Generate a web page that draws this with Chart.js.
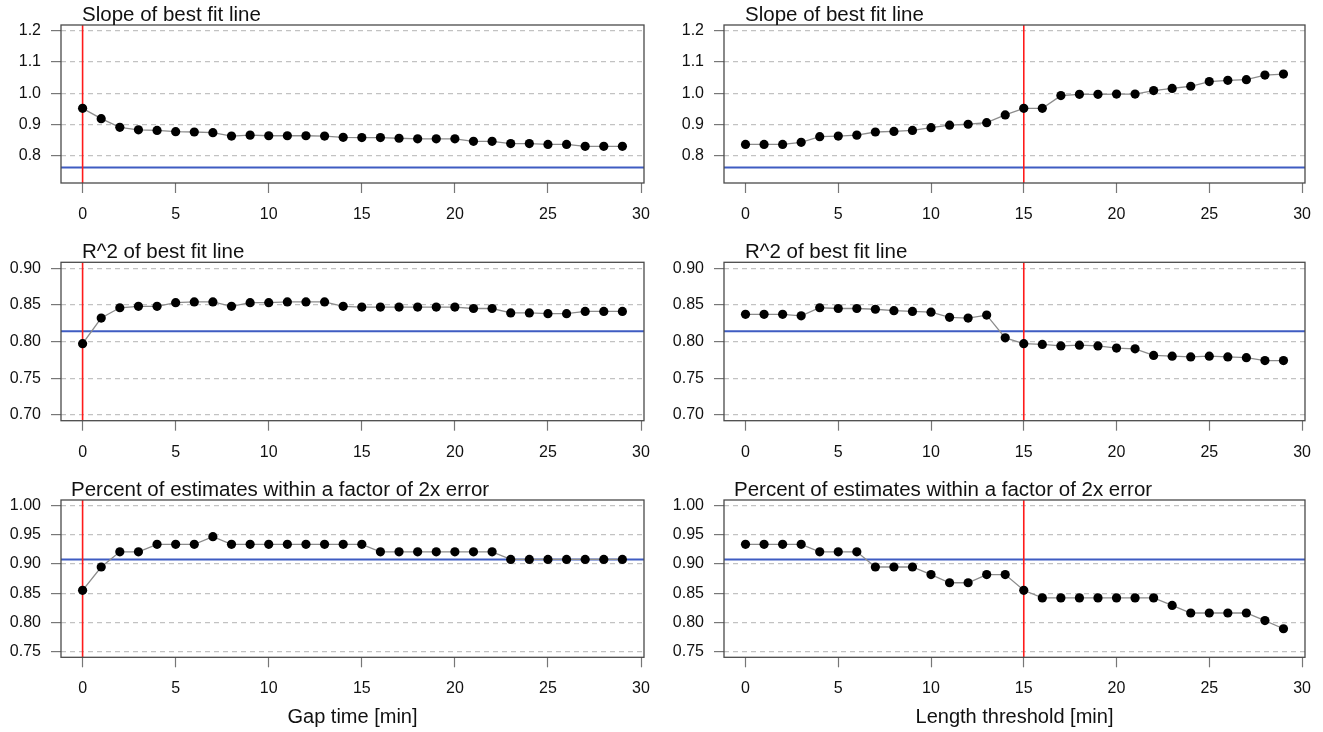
<!DOCTYPE html>
<html>
<head>
<meta charset="utf-8">
<script src="https://cdn.jsdelivr.net/npm/chart.js@4"></script>
<style>
    body { margin: 0; background: #fff; }
    #wrap { position: relative; width: 1323px; height: 732px; }
    #wrap canvas { position: absolute; }
</style>
</head>
<body>
<div id="wrap"></div>
<script>
const gapMinutes = [0, 1, 2, 3, 4, 5, 6, 7, 8, 9, 10, 11, 12, 13, 14, 15, 16, 17, 18, 19, 20, 21, 22, 23, 24, 25, 26, 27, 28, 29];
const lengthMinutes = [0, 1, 2, 3, 4, 5, 6, 7, 8, 9, 10, 11, 12, 13, 14, 15, 16, 17, 18, 19, 20, 21, 22, 23, 24, 25, 26, 27, 28, 29];
const xTicks = [0, 5, 10, 15, 20, 25, 30];

const slopeByGap = [0.951, 0.918, 0.890, 0.882, 0.880, 0.876, 0.875, 0.873, 0.862, 0.865, 0.863, 0.863, 0.863, 0.862, 0.858,
    0.857, 0.857, 0.855, 0.853, 0.853, 0.853, 0.845, 0.845, 0.838, 0.838, 0.835, 0.835, 0.829, 0.829, 0.829];
const r2ByGap = [0.797, 0.832, 0.846, 0.848, 0.848, 0.853, 0.854, 0.854, 0.848, 0.853, 0.853, 0.854, 0.854, 0.854, 0.848,
    0.847, 0.847, 0.847, 0.847, 0.847, 0.847, 0.845, 0.845, 0.839, 0.839, 0.838, 0.838, 0.841, 0.841, 0.841];
const pctByGap = [0.855, 0.895, 0.921, 0.921, 0.934, 0.934, 0.934, 0.947, 0.934, 0.934, 0.934, 0.934, 0.934, 0.934, 0.934,
    0.934, 0.921, 0.921, 0.921, 0.921, 0.921, 0.921, 0.921, 0.908, 0.908, 0.908, 0.908, 0.908, 0.908, 0.908];

const slopeByLength = [0.835, 0.835, 0.835, 0.842, 0.860, 0.862, 0.865, 0.875, 0.877, 0.880, 0.889, 0.897, 0.900, 0.905, 0.930,
    0.951, 0.951, 0.992, 0.996, 0.996, 0.997, 0.997, 1.008, 1.015, 1.022, 1.037, 1.041, 1.043, 1.058, 1.061];
const r2ByLength = [0.837, 0.837, 0.837, 0.835, 0.846, 0.845, 0.845, 0.844, 0.842, 0.841, 0.840, 0.833, 0.832, 0.836, 0.805,
    0.797, 0.796, 0.794, 0.795, 0.794, 0.791, 0.790, 0.781, 0.780, 0.779, 0.780, 0.779, 0.778, 0.774, 0.774];
const pctByLength = [0.934, 0.934, 0.934, 0.934, 0.921, 0.921, 0.921, 0.895, 0.895, 0.895, 0.882, 0.868, 0.868, 0.882, 0.882,
    0.855, 0.842, 0.842, 0.842, 0.842, 0.842, 0.842, 0.842, 0.829, 0.816, 0.816, 0.816, 0.816, 0.803, 0.789];

const slopeTicks = [0.8, 0.9, 1.0, 1.1, 1.2];
const r2Ticks = [0.70, 0.75, 0.80, 0.85, 0.90];
const pctTicks = [0.75, 0.80, 0.85, 0.90, 0.95, 1.00];

// reference values (blue) and chosen settings (red)
const baselineSlope = 0.761;
const baselineR2 = 0.814;
const baselinePct = 0.908;
const chosenGap = 0;
const chosenLength = 15;

const FONT = '"Liberation Sans", Arial, Helvetica, sans-serif';

const columns = [
    { left: 0, width: 662, axisW: 61, padRight: 16.6, xTitle: "Gap time [min]" },
    { left: 662, width: 661, axisW: 62, padRight: 15, xTitle: "Length threshold [min]" },
];
const rows = [
    { top: 0, height: 237, padTop: 25, axisH: 54, yMin: 0.7112, yMax: 1.2188, ticks: slopeTicks, digits: 1, title: "Slope of best fit line", titleShift: 21, hline: baselineSlope },
    { top: 237, height: 237, padTop: 25.3, axisH: 53.3, yMin: 0.692, yMax: 0.908, ticks: r2Ticks, digits: 2, title: "R^2 of best fit line", titleShift: 21, hline: baselineR2 },
    { top: 474, height: 258, padTop: 26, axisH: 74.7, yMin: 0.74, yMax: 1.01, ticks: pctTicks, digits: 2, title: "Percent of estimates within a factor of 2x error", titleShift: 10, hline: baselinePct },
];
const series = [
    [{ x: gapMinutes, y: slopeByGap, v: chosenGap }, { x: lengthMinutes, y: slopeByLength, v: chosenLength }],
    [{ x: gapMinutes, y: r2ByGap, v: chosenGap }, { x: lengthMinutes, y: r2ByLength, v: chosenLength }],
    [{ x: gapMinutes, y: pctByGap, v: chosenGap }, { x: lengthMinutes, y: pctByLength, v: chosenLength }],
];

// box, title, reference lines and bottom axis label
const panelDecor = {
    id: "panelDecor",
    beforeDatasetsDraw(chart, args, opts) {
        const { ctx, chartArea: a, scales } = chart;
        ctx.save();
        ctx.beginPath();
        ctx.rect(a.left, a.top, a.width, a.height);
        ctx.clip();
        const hy = scales.y.getPixelForValue(opts.hline);
        ctx.strokeStyle = "#3f5cc2";
        ctx.lineWidth = 2;
        ctx.beginPath();
        ctx.moveTo(a.left, hy);
        ctx.lineTo(a.right, hy);
        ctx.stroke();
        const vx = scales.x.getPixelForValue(opts.vline);
        ctx.strokeStyle = "#ff1a1a";
        ctx.lineWidth = 1.6;
        ctx.beginPath();
        ctx.moveTo(vx, a.top);
        ctx.lineTo(vx, a.bottom);
        ctx.stroke();
        ctx.restore();
    },
    afterDraw(chart, args, opts) {
        const { ctx, chartArea: a } = chart;
        ctx.save();
        ctx.strokeStyle = "#4a4a4a";
        ctx.lineWidth = 1.3;
        ctx.strokeRect(a.left, a.top, a.width, a.height);
        ctx.fillStyle = "#111";
        ctx.font = "20.5px " + FONT;
        ctx.textBaseline = "alphabetic";
        ctx.textAlign = "left";
        ctx.fillText(opts.title, a.left + opts.titleShift, a.top - 4);
        if (opts.xTitle) {
            ctx.font = "20px " + FONT;
            ctx.textAlign = "center";
            ctx.fillText(opts.xTitle, (a.left + a.right) / 2, a.bottom + 66);
        }
        ctx.restore();
    },
};

const wrap = document.getElementById("wrap");

rows.forEach((row, r) => {
    columns.forEach((col, c) => {
        const s = series[r][c];
        const canvas = document.createElement("canvas");
        canvas.width = col.width;
        canvas.height = row.height;
        canvas.style.left = col.left + "px";
        canvas.style.top = row.top + "px";
        wrap.appendChild(canvas);

        const points = s.x.map((x, i) => ({ x: x, y: s.y[i] }));
        const config = {
            type: "line",
            data: {
                datasets: [
                    {
                        data: points,
                        borderColor: "#8c8c8c",
                        borderWidth: 1.3,
                        pointRadius: 4.6,
                        pointBackgroundColor: "#000",
                        pointBorderWidth: 0,
                        tension: 0,
                    },
                ],
            },
            options: {
                responsive: false,
                animation: false,
                layout: { padding: { top: row.padTop, right: col.padRight, left: 0, bottom: 0 } },
                plugins: {
                    legend: { display: false },
                    tooltip: { enabled: false },
                    panelDecor: {
                        title: row.title,
                        titleShift: row.titleShift,
                        hline: row.hline,
                        vline: s.v,
                        xTitle: r === rows.length - 1 ? col.xTitle : null,
                    },
                },
                scales: {
                    x: {
                        type: "linear",
                        min: -1.16,
                        max: 30.16,
                        afterBuildTicks: (axis) => {
                            axis.ticks = xTicks.map((v) => ({ value: v }));
                        },
                        afterFit: (axis) => {
                            axis.height = row.axisH;
                        },
                        grid: { drawOnChartArea: false, drawTicks: true, tickLength: 10, tickColor: "#777", tickWidth: 1.2 },
                        border: { display: false },
                        ticks: { color: "#111", font: { family: FONT, size: 16 }, padding: 12, maxRotation: 0, autoSkip: false },
                    },
                    y: {
                        type: "linear",
                        min: row.yMin,
                        max: row.yMax,
                        afterBuildTicks: (axis) => {
                            axis.ticks = row.ticks.map((v) => ({ value: v }));
                        },
                        afterFit: (axis) => {
                            axis.width = col.axisW;
                        },
                        grid: { color: "#c2c2c2", lineWidth: 1.2, tickLength: 10, tickColor: "#777", tickWidth: 1.2, tickBorderDash: [] },
                        border: { display: false, dash: [5, 4] },
                        ticks: {
                            color: "#111",
                            font: { family: FONT, size: 16 },
                            padding: 10,
                            autoSkip: false,
                            callback: (v) => Number(v).toFixed(row.digits),
                        },
                    },
                },
            },
            plugins: [panelDecor],
        };
        new Chart(canvas, config);
    });
});
</script>
</body>
</html>
